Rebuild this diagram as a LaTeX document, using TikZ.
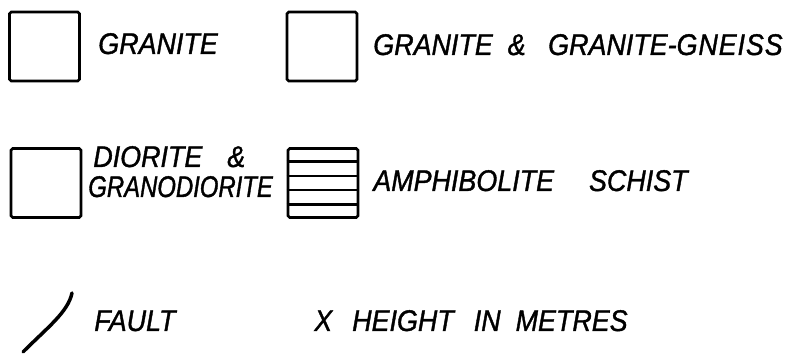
\documentclass[tikz,border=0pt]{standalone}
\usepackage{fontspec}
\setmainfont{Liberation Sans}
\newfontfamily\legfont[FakeStretch=0.9,FakeBold=1.2]{Liberation Sans}
\newfontfamily\legnarrow[FakeStretch=0.8,FakeBold=1.2]{Liberation Sans}
\usepackage{tikz}
\usetikzlibrary{calc,positioning}

\begin{document}
\begin{tikzpicture}[x=0.02cm,y=-0.02cm,line width=1.5pt,
    legbox/.style={draw,rounded corners=1pt,minimum width=1.4cm,minimum height=1.38cm,inner sep=0pt},
    leglbl/.style={anchor=base west,inner sep=0pt,font=\legfont\fontsize{17}{20}\selectfont\itshape},
    legtight/.style={leglbl,font=\legnarrow\fontsize{17}{20}\selectfont\itshape}]
  \useasboundingbox (0,0) rectangle (802,354);
  % top row
  \node[legbox] (granbox) at (44.5,46.5) {};
  \node[leglbl] (granlbl) at (97,54) {GRANITE};
  \node[legbox] (gneissbox) at (322,46.5) {};
  \node[leglbl] (gneisslbl) at (372,55) {GRANITE\hspace{0.3cm}\&\hspace{0.45cm}GRANITE-{\addfontfeature{LetterSpace=3}GNEISS}};
  % middle row
  \node[legbox] (diobox) at (46,183) {};
  \node[leglbl] (diolbl) at (92,167) {DIORITE\hspace{0.5cm}\&};
  \node[legtight] (granodlbl) at (87,197) {GRANODIORITE};
  \node[legbox] (amphbox) at (323,183) {};
  \foreach \k in {1,...,4}
    \draw ($(amphbox.north west)!\k/5!(amphbox.south west)$) -- ($(amphbox.north east)!\k/5!(amphbox.south east)$);
  \node[leglbl] (amphlbl) at (372,191) {AMPHIBOLITE\hspace{0.7cm}SCHIST};
  % bottom row
  \coordinate (faultlo) at (23,352);
  \coordinate (faulthi) at (72,293);
  \draw[line width=2pt,line cap=round] (faultlo) .. controls (48,327) and (68,312) .. (faulthi);
  \node[leglbl] (faultlbl) at (93,331) {FAULT};
  \node[leglbl] (heightlbl) at (313,331) {X\hspace{0.4cm}HEIGHT\hspace{0.4cm}IN\hspace{0.3cm}METRES};
\end{tikzpicture}
\end{document}
